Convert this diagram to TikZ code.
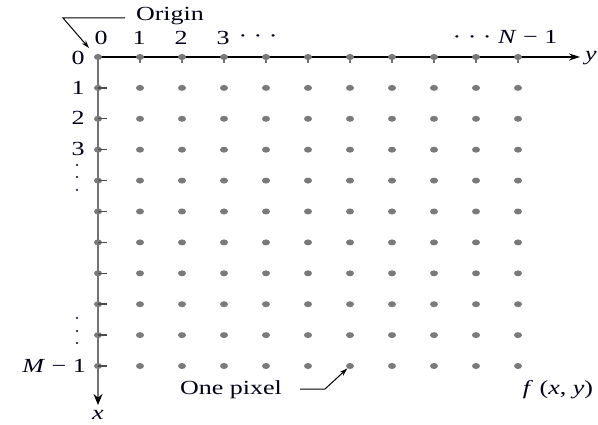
\documentclass[tikz,border=0pt]{standalone}
\usepackage{fontspec}
\setmainfont{Liberation Serif}
\usetikzlibrary{arrows.meta,shapes.geometric}
\newcommand\stx[1]{\scalebox{1.3}[1]{#1}}
\begin{document}
\begin{tikzpicture}[x=1pt,y=-1pt,
  lbl/.style={inner sep=0pt, text=black!90!blue, font=\fontsize{20}{23}\selectfont},
  pix/.style={ellipse, fill=black!52, inner sep=0pt, minimum width=8pt, minimum height=6pt},
  vdot/.style={circle, fill=black!85!blue, inner sep=0pt, minimum size=2.4pt},
  htick/.style={draw=black!55, line width=1.4pt},
  vtick/.style={draw=black!70, line width=1.4pt},
  axh/.style={draw=black, line width=1.4pt, -{Stealth[length=11pt,width=7pt]}},
  axv/.style={draw=black!55, line width=2.8pt, -{Stealth[length=11pt,width=9pt,color=black]}},
  leader/.style={draw=black, line width=1pt},
  leadarrow/.style={leader, -{Stealth[length=8pt,width=5pt]}}]
\useasboundingbox (0,0) rectangle (598,425);
% axes
\coordinate (o) at (98,57);
\coordinate (yend) at (580,57);
\coordinate (xend) at (98,405);
\draw[axh] (o) -- (yend);
\draw[axv] (o) -- (xend);
% grid of pixels
\foreach \i in {0,...,10} {
  \foreach \j in {0,...,10} {
    \node[pix] (p-\i-\j) at ({98+42*\j},{57+30.9*\i}) {};
  }
}
\foreach \j in {1,...,10} \draw[htick] (p-0-\j.center) -- ++(0,6);
\foreach \i in {1,...,10} \draw[vtick] (p-\i-0.center) -- ++(9,0);
% axis labels
\node[lbl] (ylab) at (591,58) {\stx{\textit{y}}};
\node[lbl] (xlab) at (98,415) {\stx{\textit{x}}};
% column labels
\node[lbl] (c0) at (101,38) {\stx{0}};
\node[lbl] (c1) at (139,38) {\stx{1}};
\node[lbl] (c2) at (181,38) {\stx{2}};
\node[lbl] (c3) at (223,38) {\stx{3}};
\node[lbl] (cdots) at (258,39) {\stx{· · ·}};
\node[lbl] (cN) at (505,37) {\stx{· · · \textit{N} − 1}};
% row labels
\node[lbl] (r0) at (78,58) {\stx{0}};
\node[lbl] (r1) at (78,88) {\stx{1}};
\node[lbl] (r2) at (78,118) {\stx{2}};
\node[lbl] (r3) at (78,149) {\stx{3}};
\foreach \yy/\k in {165/a,177/b,190/c,318/d,331/e,343/f}
  \node[vdot] (vd-\k) at (77,\yy) {};
\node[lbl, anchor=east] (rM) at (86,366) {\stx{\textit{M} − 1}};
% origin label
\node[lbl] (origin) at (170,16) {\stx{Origin}};
\coordinate (oa) at (125,18);
\coordinate (ob) at (63,18);
\draw[leadarrow] (oa) -- (ob) -- (89,48);
% one pixel label
\node[lbl] (onepix) at (231,390) {\stx{One pixel}};
\coordinate (pa) at (300,389);
\coordinate (pb) at (325,389);
\draw[leadarrow] (pa) -- (pb) -- (p-10-6);
% f(x,y)
\node[lbl] (fxy) at (558,390) {\stx{\textit{f} (\textit{x}, \textit{y})}};
\end{tikzpicture}
\end{document}
